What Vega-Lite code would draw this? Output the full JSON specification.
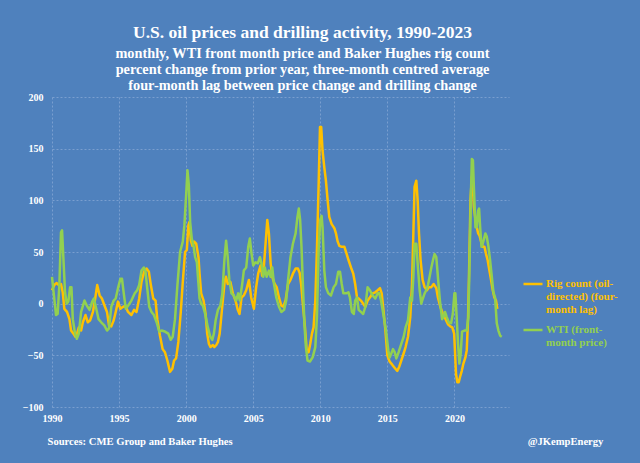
{
  "$schema": "https://vega.github.io/schema/vega-lite/v6.json",
  "width": 457,
  "height": 310,
  "autosize": {"type": "none"},
  "padding": {"left": 52, "top": 97, "right": 131, "bottom": 56},
  "background": "#4F81BD",
  "title": {
    "text": "U.S. oil prices and drilling activity, 1990-2023",
    "subtitle": ["monthly, WTI front month price and Baker Hughes rig count", "percent change from prior year, three-month centred average", "four-month lag between price change and drilling change"],
    "anchor": "middle",
    "frame": "group",
    "dx": 22,
    "offset": -1,
    "font": "Liberation Serif",
    "fontSize": 17.5,
    "fontWeight": "bold",
    "color": "#ffffff",
    "subtitleFont": "Liberation Serif",
    "subtitleFontSize": 14.3,
    "subtitleFontWeight": "bold",
    "subtitleColor": "#ffffff",
    "subtitlePadding": 5,
    "subtitleLineHeight": 16
  },
  "data": {"values": [
    {"t":1990.0,"s":"rig","v":13},{"t":1990.17,"s":"rig","v":18},{"t":1990.35,"s":"rig","v":20},{"t":1990.5,"s":"rig","v":18},{"t":1990.67,"s":"rig","v":19},{"t":1990.8,"s":"rig","v":11},{"t":1990.92,"s":"rig","v":-5},{"t":1991.12,"s":"rig","v":-8},{"t":1991.3,"s":"rig","v":-15},{"t":1991.42,"s":"rig","v":-26},{"t":1991.6,"s":"rig","v":-29},{"t":1991.75,"s":"rig","v":-32},{"t":1991.87,"s":"rig","v":-29},{"t":1992.0,"s":"rig","v":-23},{"t":1992.17,"s":"rig","v":-26},{"t":1992.3,"s":"rig","v":-18},{"t":1992.5,"s":"rig","v":-11},{"t":1992.67,"s":"rig","v":-18},{"t":1992.85,"s":"rig","v":-16},{"t":1993.05,"s":"rig","v":-8},{"t":1993.22,"s":"rig","v":5},{"t":1993.37,"s":"rig","v":18},{"t":1993.55,"s":"rig","v":8},{"t":1993.72,"s":"rig","v":5},{"t":1993.92,"s":"rig","v":-2},{"t":1994.1,"s":"rig","v":-8},{"t":1994.25,"s":"rig","v":-21},{"t":1994.42,"s":"rig","v":-22},{"t":1994.6,"s":"rig","v":-16},{"t":1994.75,"s":"rig","v":-8},{"t":1994.92,"s":"rig","v":2},{"t":1995.1,"s":"rig","v":-5},{"t":1995.3,"s":"rig","v":-3},{"t":1995.47,"s":"rig","v":-2},{"t":1995.67,"s":"rig","v":-8},{"t":1995.92,"s":"rig","v":-11},{"t":1996.12,"s":"rig","v":-6},{"t":1996.3,"s":"rig","v":-8},{"t":1996.5,"s":"rig","v":5},{"t":1996.67,"s":"rig","v":21},{"t":1996.87,"s":"rig","v":31},{"t":1997.05,"s":"rig","v":34},{"t":1997.22,"s":"rig","v":31},{"t":1997.37,"s":"rig","v":18},{"t":1997.55,"s":"rig","v":5},{"t":1997.72,"s":"rig","v":3},{"t":1997.85,"s":"rig","v":-15},{"t":1998.05,"s":"rig","v":-31},{"t":1998.25,"s":"rig","v":-44},{"t":1998.42,"s":"rig","v":-47},{"t":1998.6,"s":"rig","v":-55},{"t":1998.8,"s":"rig","v":-66},{"t":1998.97,"s":"rig","v":-63},{"t":1999.1,"s":"rig","v":-55},{"t":1999.25,"s":"rig","v":-53},{"t":1999.42,"s":"rig","v":-37},{"t":1999.6,"s":"rig","v":-8},{"t":1999.75,"s":"rig","v":21},{"t":1999.92,"s":"rig","v":50},{"t":2000.05,"s":"rig","v":52},{"t":2000.17,"s":"rig","v":76},{"t":2000.25,"s":"rig","v":79},{"t":2000.35,"s":"rig","v":61},{"t":2000.47,"s":"rig","v":56},{"t":2000.6,"s":"rig","v":60},{"t":2000.75,"s":"rig","v":58},{"t":2000.92,"s":"rig","v":45},{"t":2001.0,"s":"rig","v":29},{"t":2001.12,"s":"rig","v":10},{"t":2001.3,"s":"rig","v":3},{"t":2001.45,"s":"rig","v":-10},{"t":2001.57,"s":"rig","v":-29},{"t":2001.7,"s":"rig","v":-39},{"t":2001.82,"s":"rig","v":-42},{"t":2002.0,"s":"rig","v":-40},{"t":2002.1,"s":"rig","v":-42},{"t":2002.25,"s":"rig","v":-40},{"t":2002.37,"s":"rig","v":-37},{"t":2002.5,"s":"rig","v":-29},{"t":2002.64,"s":"rig","v":-10},{"t":2002.75,"s":"rig","v":5},{"t":2002.88,"s":"rig","v":22},{"t":2002.97,"s":"rig","v":26},{"t":2003.1,"s":"rig","v":19},{"t":2003.3,"s":"rig","v":21},{"t":2003.48,"s":"rig","v":10},{"t":2003.68,"s":"rig","v":3},{"t":2003.85,"s":"rig","v":-6},{"t":2003.98,"s":"rig","v":-10},{"t":2004.13,"s":"rig","v":6},{"t":2004.3,"s":"rig","v":8},{"t":2004.48,"s":"rig","v":13},{"t":2004.68,"s":"rig","v":23},{"t":2004.85,"s":"rig","v":6},{"t":2005.05,"s":"rig","v":-5},{"t":2005.22,"s":"rig","v":16},{"t":2005.37,"s":"rig","v":29},{"t":2005.55,"s":"rig","v":37},{"t":2005.67,"s":"rig","v":27},{"t":2005.8,"s":"rig","v":37},{"t":2005.92,"s":"rig","v":58},{"t":2006.05,"s":"rig","v":81},{"t":2006.17,"s":"rig","v":68},{"t":2006.3,"s":"rig","v":39},{"t":2006.42,"s":"rig","v":26},{"t":2006.6,"s":"rig","v":19},{"t":2006.75,"s":"rig","v":16},{"t":2006.92,"s":"rig","v":6},{"t":2007.1,"s":"rig","v":-2},{"t":2007.24,"s":"rig","v":-3},{"t":2007.41,"s":"rig","v":3},{"t":2007.6,"s":"rig","v":19},{"t":2007.78,"s":"rig","v":23},{"t":2007.96,"s":"rig","v":29},{"t":2008.16,"s":"rig","v":34},{"t":2008.33,"s":"rig","v":34},{"t":2008.46,"s":"rig","v":30},{"t":2008.58,"s":"rig","v":18},{"t":2008.68,"s":"rig","v":3},{"t":2008.86,"s":"rig","v":-23},{"t":2008.98,"s":"rig","v":-44},{"t":2009.13,"s":"rig","v":-47},{"t":2009.25,"s":"rig","v":-39},{"t":2009.38,"s":"rig","v":-29},{"t":2009.5,"s":"rig","v":-23},{"t":2009.63,"s":"rig","v":3},{"t":2009.75,"s":"rig","v":52},{"t":2009.88,"s":"rig","v":116},{"t":2009.98,"s":"rig","v":171},{"t":2010.07,"s":"rig","v":171},{"t":2010.17,"s":"rig","v":148},{"t":2010.3,"s":"rig","v":132},{"t":2010.42,"s":"rig","v":119},{"t":2010.55,"s":"rig","v":100},{"t":2010.67,"s":"rig","v":84},{"t":2010.85,"s":"rig","v":77},{"t":2011.05,"s":"rig","v":73},{"t":2011.17,"s":"rig","v":68},{"t":2011.3,"s":"rig","v":60},{"t":2011.42,"s":"rig","v":56},{"t":2011.6,"s":"rig","v":55},{"t":2011.8,"s":"rig","v":55},{"t":2011.97,"s":"rig","v":48},{"t":2012.11,"s":"rig","v":42},{"t":2012.29,"s":"rig","v":35},{"t":2012.46,"s":"rig","v":29},{"t":2012.6,"s":"rig","v":19},{"t":2012.74,"s":"rig","v":6},{"t":2012.86,"s":"rig","v":5},{"t":2013.03,"s":"rig","v":3},{"t":2013.2,"s":"rig","v":0},{"t":2013.36,"s":"rig","v":-3},{"t":2013.53,"s":"rig","v":3},{"t":2013.7,"s":"rig","v":6},{"t":2013.9,"s":"rig","v":10},{"t":2014.1,"s":"rig","v":11},{"t":2014.28,"s":"rig","v":13},{"t":2014.45,"s":"rig","v":15},{"t":2014.58,"s":"rig","v":10},{"t":2014.7,"s":"rig","v":-5},{"t":2014.85,"s":"rig","v":-25},{"t":2015.0,"s":"rig","v":-50},{"t":2015.17,"s":"rig","v":-56},{"t":2015.3,"s":"rig","v":-58},{"t":2015.42,"s":"rig","v":-60},{"t":2015.6,"s":"rig","v":-63},{"t":2015.74,"s":"rig","v":-65},{"t":2015.89,"s":"rig","v":-61},{"t":2016.04,"s":"rig","v":-55},{"t":2016.22,"s":"rig","v":-48},{"t":2016.36,"s":"rig","v":-42},{"t":2016.54,"s":"rig","v":-32},{"t":2016.71,"s":"rig","v":-13},{"t":2016.84,"s":"rig","v":19},{"t":2016.94,"s":"rig","v":68},{"t":2017.03,"s":"rig","v":113},{"t":2017.16,"s":"rig","v":119},{"t":2017.26,"s":"rig","v":100},{"t":2017.36,"s":"rig","v":68},{"t":2017.48,"s":"rig","v":42},{"t":2017.63,"s":"rig","v":23},{"t":2017.78,"s":"rig","v":16},{"t":2017.95,"s":"rig","v":13},{"t":2018.1,"s":"rig","v":16},{"t":2018.28,"s":"rig","v":16},{"t":2018.45,"s":"rig","v":19},{"t":2018.65,"s":"rig","v":15},{"t":2018.77,"s":"rig","v":6},{"t":2018.95,"s":"rig","v":-3},{"t":2019.14,"s":"rig","v":-10},{"t":2019.34,"s":"rig","v":-15},{"t":2019.52,"s":"rig","v":-20},{"t":2019.69,"s":"rig","v":-22},{"t":2019.84,"s":"rig","v":-23},{"t":2019.98,"s":"rig","v":-29},{"t":2020.05,"s":"rig","v":-48},{"t":2020.12,"s":"rig","v":-68},{"t":2020.22,"s":"rig","v":-76},{"t":2020.32,"s":"rig","v":-76},{"t":2020.42,"s":"rig","v":-71},{"t":2020.55,"s":"rig","v":-65},{"t":2020.67,"s":"rig","v":-58},{"t":2020.82,"s":"rig","v":-52},{"t":2020.92,"s":"rig","v":-45},{"t":2021.02,"s":"rig","v":-13},{"t":2021.1,"s":"rig","v":35},{"t":2021.2,"s":"rig","v":100},{"t":2021.3,"s":"rig","v":123},{"t":2021.37,"s":"rig","v":116},{"t":2021.45,"s":"rig","v":94},{"t":2021.57,"s":"rig","v":81},{"t":2021.67,"s":"rig","v":74},{"t":2021.77,"s":"rig","v":68},{"t":2021.87,"s":"rig","v":66},{"t":2021.99,"s":"rig","v":60},{"t":2022.11,"s":"rig","v":55},{"t":2022.24,"s":"rig","v":55},{"t":2022.36,"s":"rig","v":48},{"t":2022.48,"s":"rig","v":42},{"t":2022.61,"s":"rig","v":32},{"t":2022.73,"s":"rig","v":23},{"t":2022.86,"s":"rig","v":13},{"t":2022.98,"s":"rig","v":6},{"t":2023.1,"s":"rig","v":3},{"t":2023.2,"s":"rig","v":-5},
    {"t":1990.0,"s":"wti","v":26},{"t":1990.12,"s":"wti","v":11},{"t":1990.3,"s":"wti","v":-11},{"t":1990.42,"s":"wti","v":-10},{"t":1990.55,"s":"wti","v":18},{"t":1990.67,"s":"wti","v":69},{"t":1990.75,"s":"wti","v":71},{"t":1990.85,"s":"wti","v":44},{"t":1990.97,"s":"wti","v":11},{"t":1991.1,"s":"wti","v":0},{"t":1991.22,"s":"wti","v":2},{"t":1991.35,"s":"wti","v":16},{"t":1991.45,"s":"wti","v":16},{"t":1991.55,"s":"wti","v":-15},{"t":1991.72,"s":"wti","v":-29},{"t":1991.85,"s":"wti","v":-34},{"t":1992.0,"s":"wti","v":-29},{"t":1992.17,"s":"wti","v":-8},{"t":1992.42,"s":"wti","v":3},{"t":1992.6,"s":"wti","v":-2},{"t":1992.8,"s":"wti","v":-6},{"t":1993.0,"s":"wti","v":2},{"t":1993.12,"s":"wti","v":5},{"t":1993.3,"s":"wti","v":-5},{"t":1993.47,"s":"wti","v":-15},{"t":1993.67,"s":"wti","v":-18},{"t":1993.9,"s":"wti","v":-21},{"t":1994.1,"s":"wti","v":-26},{"t":1994.25,"s":"wti","v":-24},{"t":1994.42,"s":"wti","v":-3},{"t":1994.6,"s":"wti","v":3},{"t":1994.75,"s":"wti","v":5},{"t":1994.92,"s":"wti","v":15},{"t":1995.1,"s":"wti","v":24},{"t":1995.22,"s":"wti","v":24},{"t":1995.35,"s":"wti","v":10},{"t":1995.5,"s":"wti","v":-5},{"t":1995.67,"s":"wti","v":-2},{"t":1995.92,"s":"wti","v":3},{"t":1996.17,"s":"wti","v":10},{"t":1996.35,"s":"wti","v":13},{"t":1996.5,"s":"wti","v":18},{"t":1996.67,"s":"wti","v":32},{"t":1996.85,"s":"wti","v":35},{"t":1996.97,"s":"wti","v":31},{"t":1997.1,"s":"wti","v":15},{"t":1997.25,"s":"wti","v":-3},{"t":1997.42,"s":"wti","v":-8},{"t":1997.6,"s":"wti","v":-11},{"t":1997.8,"s":"wti","v":-18},{"t":1998.0,"s":"wti","v":-27},{"t":1998.17,"s":"wti","v":-26},{"t":1998.42,"s":"wti","v":-27},{"t":1998.67,"s":"wti","v":-29},{"t":1998.85,"s":"wti","v":-35},{"t":1999.0,"s":"wti","v":-32},{"t":1999.17,"s":"wti","v":-15},{"t":1999.35,"s":"wti","v":18},{"t":1999.55,"s":"wti","v":50},{"t":1999.75,"s":"wti","v":60},{"t":1999.87,"s":"wti","v":76},{"t":2000.0,"s":"wti","v":105},{"t":2000.1,"s":"wti","v":129},{"t":2000.2,"s":"wti","v":115},{"t":2000.3,"s":"wti","v":79},{"t":2000.42,"s":"wti","v":63},{"t":2000.55,"s":"wti","v":56},{"t":2000.67,"s":"wti","v":45},{"t":2000.8,"s":"wti","v":40},{"t":2001.0,"s":"wti","v":5},{"t":2001.12,"s":"wti","v":0},{"t":2001.25,"s":"wti","v":-2},{"t":2001.42,"s":"wti","v":-10},{"t":2001.62,"s":"wti","v":-23},{"t":2001.8,"s":"wti","v":-32},{"t":2001.95,"s":"wti","v":-35},{"t":2002.07,"s":"wti","v":-29},{"t":2002.2,"s":"wti","v":-16},{"t":2002.37,"s":"wti","v":-6},{"t":2002.55,"s":"wti","v":-2},{"t":2002.7,"s":"wti","v":10},{"t":2002.85,"s":"wti","v":42},{"t":2002.98,"s":"wti","v":61},{"t":2003.1,"s":"wti","v":45},{"t":2003.22,"s":"wti","v":23},{"t":2003.38,"s":"wti","v":10},{"t":2003.55,"s":"wti","v":8},{"t":2003.73,"s":"wti","v":3},{"t":2003.88,"s":"wti","v":10},{"t":2004.0,"s":"wti","v":3},{"t":2004.18,"s":"wti","v":19},{"t":2004.3,"s":"wti","v":32},{"t":2004.48,"s":"wti","v":35},{"t":2004.63,"s":"wti","v":55},{"t":2004.75,"s":"wti","v":63},{"t":2004.88,"s":"wti","v":48},{"t":2005.0,"s":"wti","v":37},{"t":2005.17,"s":"wti","v":40},{"t":2005.35,"s":"wti","v":39},{"t":2005.5,"s":"wti","v":45},{"t":2005.62,"s":"wti","v":39},{"t":2005.75,"s":"wti","v":26},{"t":2005.87,"s":"wti","v":35},{"t":2006.0,"s":"wti","v":26},{"t":2006.17,"s":"wti","v":32},{"t":2006.3,"s":"wti","v":26},{"t":2006.42,"s":"wti","v":35},{"t":2006.55,"s":"wti","v":19},{"t":2006.72,"s":"wti","v":6},{"t":2006.92,"s":"wti","v":-3},{"t":2007.1,"s":"wti","v":-8},{"t":2007.3,"s":"wti","v":-6},{"t":2007.46,"s":"wti","v":3},{"t":2007.6,"s":"wti","v":23},{"t":2007.78,"s":"wti","v":45},{"t":2007.96,"s":"wti","v":58},{"t":2008.16,"s":"wti","v":68},{"t":2008.3,"s":"wti","v":84},{"t":2008.4,"s":"wti","v":92},{"t":2008.5,"s":"wti","v":81},{"t":2008.6,"s":"wti","v":55},{"t":2008.7,"s":"wti","v":20},{"t":2008.82,"s":"wti","v":-20},{"t":2008.93,"s":"wti","v":-42},{"t":2009.05,"s":"wti","v":-55},{"t":2009.23,"s":"wti","v":-56},{"t":2009.43,"s":"wti","v":-52},{"t":2009.63,"s":"wti","v":-42},{"t":2009.75,"s":"wti","v":-13},{"t":2009.88,"s":"wti","v":52},{"t":2010.0,"s":"wti","v":81},{"t":2010.1,"s":"wti","v":85},{"t":2010.17,"s":"wti","v":74},{"t":2010.3,"s":"wti","v":32},{"t":2010.42,"s":"wti","v":16},{"t":2010.6,"s":"wti","v":10},{"t":2010.8,"s":"wti","v":8},{"t":2011.0,"s":"wti","v":16},{"t":2011.17,"s":"wti","v":19},{"t":2011.34,"s":"wti","v":31},{"t":2011.47,"s":"wti","v":31},{"t":2011.6,"s":"wti","v":19},{"t":2011.72,"s":"wti","v":10},{"t":2011.92,"s":"wti","v":10},{"t":2012.1,"s":"wti","v":11},{"t":2012.21,"s":"wti","v":6},{"t":2012.36,"s":"wti","v":-8},{"t":2012.5,"s":"wti","v":-10},{"t":2012.6,"s":"wti","v":3},{"t":2012.74,"s":"wti","v":6},{"t":2012.86,"s":"wti","v":-6},{"t":2013.03,"s":"wti","v":-8},{"t":2013.2,"s":"wti","v":-10},{"t":2013.36,"s":"wti","v":-3},{"t":2013.53,"s":"wti","v":16},{"t":2013.7,"s":"wti","v":13},{"t":2013.9,"s":"wti","v":8},{"t":2014.1,"s":"wti","v":5},{"t":2014.28,"s":"wti","v":10},{"t":2014.4,"s":"wti","v":10},{"t":2014.53,"s":"wti","v":3},{"t":2014.7,"s":"wti","v":-10},{"t":2014.9,"s":"wti","v":-26},{"t":2015.07,"s":"wti","v":-45},{"t":2015.17,"s":"wti","v":-52},{"t":2015.3,"s":"wti","v":-48},{"t":2015.42,"s":"wti","v":-44},{"t":2015.55,"s":"wti","v":-47},{"t":2015.67,"s":"wti","v":-53},{"t":2015.84,"s":"wti","v":-47},{"t":2016.04,"s":"wti","v":-39},{"t":2016.22,"s":"wti","v":-32},{"t":2016.36,"s":"wti","v":-23},{"t":2016.54,"s":"wti","v":-16},{"t":2016.71,"s":"wti","v":6},{"t":2016.84,"s":"wti","v":3},{"t":2016.94,"s":"wti","v":26},{"t":2017.03,"s":"wti","v":58},{"t":2017.16,"s":"wti","v":58},{"t":2017.28,"s":"wti","v":35},{"t":2017.41,"s":"wti","v":13},{"t":2017.53,"s":"wti","v":0},{"t":2017.65,"s":"wti","v":5},{"t":2017.78,"s":"wti","v":10},{"t":2017.9,"s":"wti","v":13},{"t":2018.03,"s":"wti","v":18},{"t":2018.15,"s":"wti","v":26},{"t":2018.28,"s":"wti","v":35},{"t":2018.4,"s":"wti","v":42},{"t":2018.52,"s":"wti","v":48},{"t":2018.65,"s":"wti","v":45},{"t":2018.77,"s":"wti","v":26},{"t":2018.92,"s":"wti","v":3},{"t":2019.08,"s":"wti","v":-15},{"t":2019.18,"s":"wti","v":-13},{"t":2019.3,"s":"wti","v":-8},{"t":2019.43,"s":"wti","v":-13},{"t":2019.58,"s":"wti","v":-18},{"t":2019.75,"s":"wti","v":-19},{"t":2019.88,"s":"wti","v":-10},{"t":2020.0,"s":"wti","v":10},{"t":2020.07,"s":"wti","v":10},{"t":2020.17,"s":"wti","v":-13},{"t":2020.27,"s":"wti","v":-39},{"t":2020.37,"s":"wti","v":-58},{"t":2020.47,"s":"wti","v":-48},{"t":2020.57,"s":"wti","v":-27},{"t":2020.75,"s":"wti","v":-26},{"t":2020.92,"s":"wti","v":-26},{"t":2021.04,"s":"wti","v":-13},{"t":2021.12,"s":"wti","v":35},{"t":2021.22,"s":"wti","v":100},{"t":2021.3,"s":"wti","v":140},{"t":2021.38,"s":"wti","v":139},{"t":2021.45,"s":"wti","v":113},{"t":2021.57,"s":"wti","v":74},{"t":2021.67,"s":"wti","v":74},{"t":2021.77,"s":"wti","v":90},{"t":2021.84,"s":"wti","v":92},{"t":2021.92,"s":"wti","v":74},{"t":2022.02,"s":"wti","v":55},{"t":2022.11,"s":"wti","v":58},{"t":2022.21,"s":"wti","v":63},{"t":2022.31,"s":"wti","v":68},{"t":2022.41,"s":"wti","v":65},{"t":2022.54,"s":"wti","v":55},{"t":2022.66,"s":"wti","v":42},{"t":2022.79,"s":"wti","v":26},{"t":2022.91,"s":"wti","v":11},{"t":2023.03,"s":"wti","v":6},{"t":2023.16,"s":"wti","v":-19},{"t":2023.28,"s":"wti","v":-26},{"t":2023.41,"s":"wti","v":-31},{"t":2023.53,"s":"wti","v":-32}
  ]},
  "mark": {"type": "line", "strokeWidth": 2.5, "strokeJoin": "round"},
  "encoding": {
    "x": {
      "field": "t", "type": "quantitative",
      "scale": {"domain": [1990, 2024.07], "nice": false, "zero": false},
      "axis": {
        "values": [1990, 1995, 2000, 2005, 2010, 2015, 2020],
        "format": "d",
        "labelFlush": false,
        "title": "Sources: CME Group and Baker Hughes",
        "titleX": -5, "titleY": 34, "titleAlign": "left", "titleBaseline": "middle",
        "titleFont": "Liberation Serif", "titleFontSize": 10.6, "titleFontWeight": "bold", "titleColor": "#ffffff",
        "labelPadding": 6
      }
    },
    "y": {
      "field": "v", "type": "quantitative",
      "scale": {"domain": [-100, 200], "nice": false},
      "axis": {
        "values": [-100, -50, 0, 50, 100, 150, 200],
        "labelFlush": false,
        "title": "@JKempEnergy",
        "titleAngle": 0, "titleX": 513, "titleY": 344, "titleAlign": "center", "titleBaseline": "middle",
        "titleFont": "Liberation Serif", "titleFontSize": 10.6, "titleFontWeight": "bold", "titleColor": "#ffffff",
        "labelPadding": 9
      }
    },
    "color": {
      "field": "s", "type": "nominal",
      "scale": {"domain": ["rig", "wti"], "range": ["#FFC000", "#92D050"]},
      "legend": {
        "title": null,
        "orient": "none",
        "legendX": 470,
        "legendY": 176,
        "symbolType": "stroke",
        "symbolSize": 361,
        "symbolStrokeWidth": 2.5,
        "labelOffset": 2,
        "labelFont": "Liberation Serif",
        "labelFontSize": 11,
        "labelFontWeight": "bold",
        "labelLineHeight": 12,
        "labelLimit": 200,
        "labelBaseline": "top",
        "rowPadding": 4,
        "labelExpr": "datum.value == 'rig' ? ['Rig count (oil-', 'directed) (four-', 'month lag)'] : ['WTI (front-', 'month price)']",
        "encode": {
          "labels": {"update": {"fill": {"signal": "datum.value == 'rig' ? '#FFC000' : '#92D050'"}, "dy": {"value": -6}}}
        }
      }
    }
  },
  "config": {
    "font": "Liberation Serif",
    "view": {"stroke": null},
    "axis": {
      "domain": false,
      "ticks": false,
      "grid": true,
      "gridColor": "#9DB8DE",
      "gridOpacity": 0.55,
      "gridDash": [2, 2],
      "gridWidth": 1,
      "labelColor": "#ffffff",
      "labelFont": "Liberation Serif",
      "labelFontSize": 10,
      "labelFontWeight": "bold"
    }
  }
}
